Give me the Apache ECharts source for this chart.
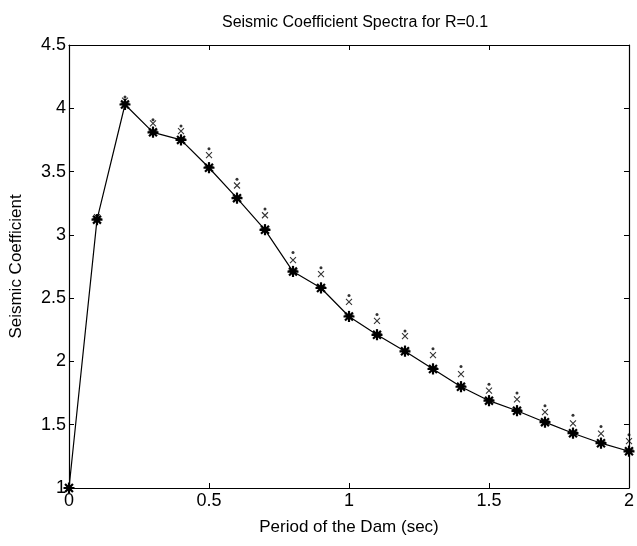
<!DOCTYPE html>
<html><head><meta charset="utf-8">
<script src="https://cdn.jsdelivr.net/npm/echarts@6/dist/echarts.min.js"></script>
<style>html,body{margin:0;padding:0;background:#fff}#c{width:637px;height:546px}</style>
</head><body><div id="c"></div>
<script>
const periods = [0,0.1,0.2,0.3,0.4,0.5,0.6,0.7,0.8,0.9,1.0,1.1,1.2,1.3,1.4,1.5,1.6,1.7,1.8,1.9,2.0];
const starVals = [1.00,3.12,4.03,3.81,3.75,3.53,3.29,3.04,2.71,2.58,2.355,2.21,2.08,1.94,1.80,1.69,1.61,1.52,1.433,1.354,1.29];
const plusVals = [1.00,3.13,4.04,3.82,3.76,3.54,3.30,3.05,2.72,2.59,2.365,2.22,2.09,1.95,1.81,1.70,1.62,1.53,1.443,1.364,1.30];
const crossVals = [1.00,3.14,4.06,3.88,3.82,3.63,3.39,3.155,2.80,2.69,2.47,2.32,2.20,2.05,1.90,1.77,1.70,1.60,1.51,1.43,1.37];
const dotVals = [1.00,3.15,4.09,3.91,3.86,3.68,3.44,3.205,2.86,2.74,2.52,2.37,2.24,2.10,1.96,1.82,1.75,1.65,1.575,1.485,1.42];
const xTicks = [0,0.5,1,1.5,2];
const yTicks = [1,1.5,2,2.5,3,3.5,4,4.5];

const pairs = v => periods.map((p,i)=>[p,v[i]]);
const F = '"Liberation Sans", Arial, sans-serif';
const chart = echarts.init(document.getElementById('c'));
const star = 'path://M0,-5L0,5M-5,0L5,0M-3.6,-3.6L3.6,3.6M-3.6,3.6L3.6,-3.6';
const plus = 'path://M0,-4L0,4M-4,0L4,0';
const cross = 'path://M-3,-3L3,3M-3,3L3,-3';
const axisCommon = {
  axisLine:{show:true,onZero:false,lineStyle:{color:'#000',width:1.2}},
  axisTick:{show:true,inside:true,length:5,lineStyle:{color:'#000',width:1}},
  splitLine:{show:false}
};
chart.setOption({
  animation:false,
  backgroundColor:'#fff',
  title:{text:'Seismic Coefficient Spectra for R=0.1',left:350,top:10,textAlign:'center',
    textStyle:{fontFamily:F,fontSize:16,fontWeight:'normal',color:'#000'}},
  grid:{left:69,right:6,top:45,bottom:58,show:false},
  xAxis:[
    Object.assign({type:'value',min:0,max:2,interval:0.5,position:'bottom',
      name:'Period of the Dam (sec)',nameLocation:'middle',nameGap:31,
      nameTextStyle:{fontFamily:F,fontSize:17,color:'#000'},
      axisLabel:{fontFamily:F,fontSize:18,color:'#000',margin:4,formatter:v=>String(v)}},axisCommon),
    Object.assign({type:'value',min:0,max:2,interval:0.5,position:'top',axisLabel:{show:false}},axisCommon)
  ],
  yAxis:[
    Object.assign({type:'value',min:1,max:4.5,interval:0.5,position:'left',
      name:'Seismic Coefficient',nameLocation:'middle',nameGap:44,
      nameTextStyle:{fontFamily:F,fontSize:17,color:'#000'},
      axisLabel:{fontFamily:F,fontSize:18,color:'#000',margin:3,formatter:v=>String(v)}},axisCommon),
    Object.assign({type:'value',min:1,max:4.5,interval:0.5,position:'right',axisLabel:{show:false}},axisCommon)
  ],
  series:[
    {type:'line',data:pairs(starVals),symbol:star,symbolSize:11,showAllSymbol:true,
      lineStyle:{color:'#000',width:1.2},itemStyle:{color:'#000',borderColor:'#000',borderWidth:2.2}},
    {type:'scatter',data:pairs(plusVals),symbol:plus,symbolSize:9,
      itemStyle:{color:'#000',borderColor:'#000',borderWidth:1.4}},
    {type:'scatter',data:pairs(crossVals),symbol:cross,symbolSize:6,
      itemStyle:{color:'#000',borderColor:'#000',borderWidth:1.1}},
    {type:'scatter',data:pairs(dotVals),symbol:'circle',symbolSize:3,
      itemStyle:{color:'#000'}}
  ]
});
</script></body></html>
